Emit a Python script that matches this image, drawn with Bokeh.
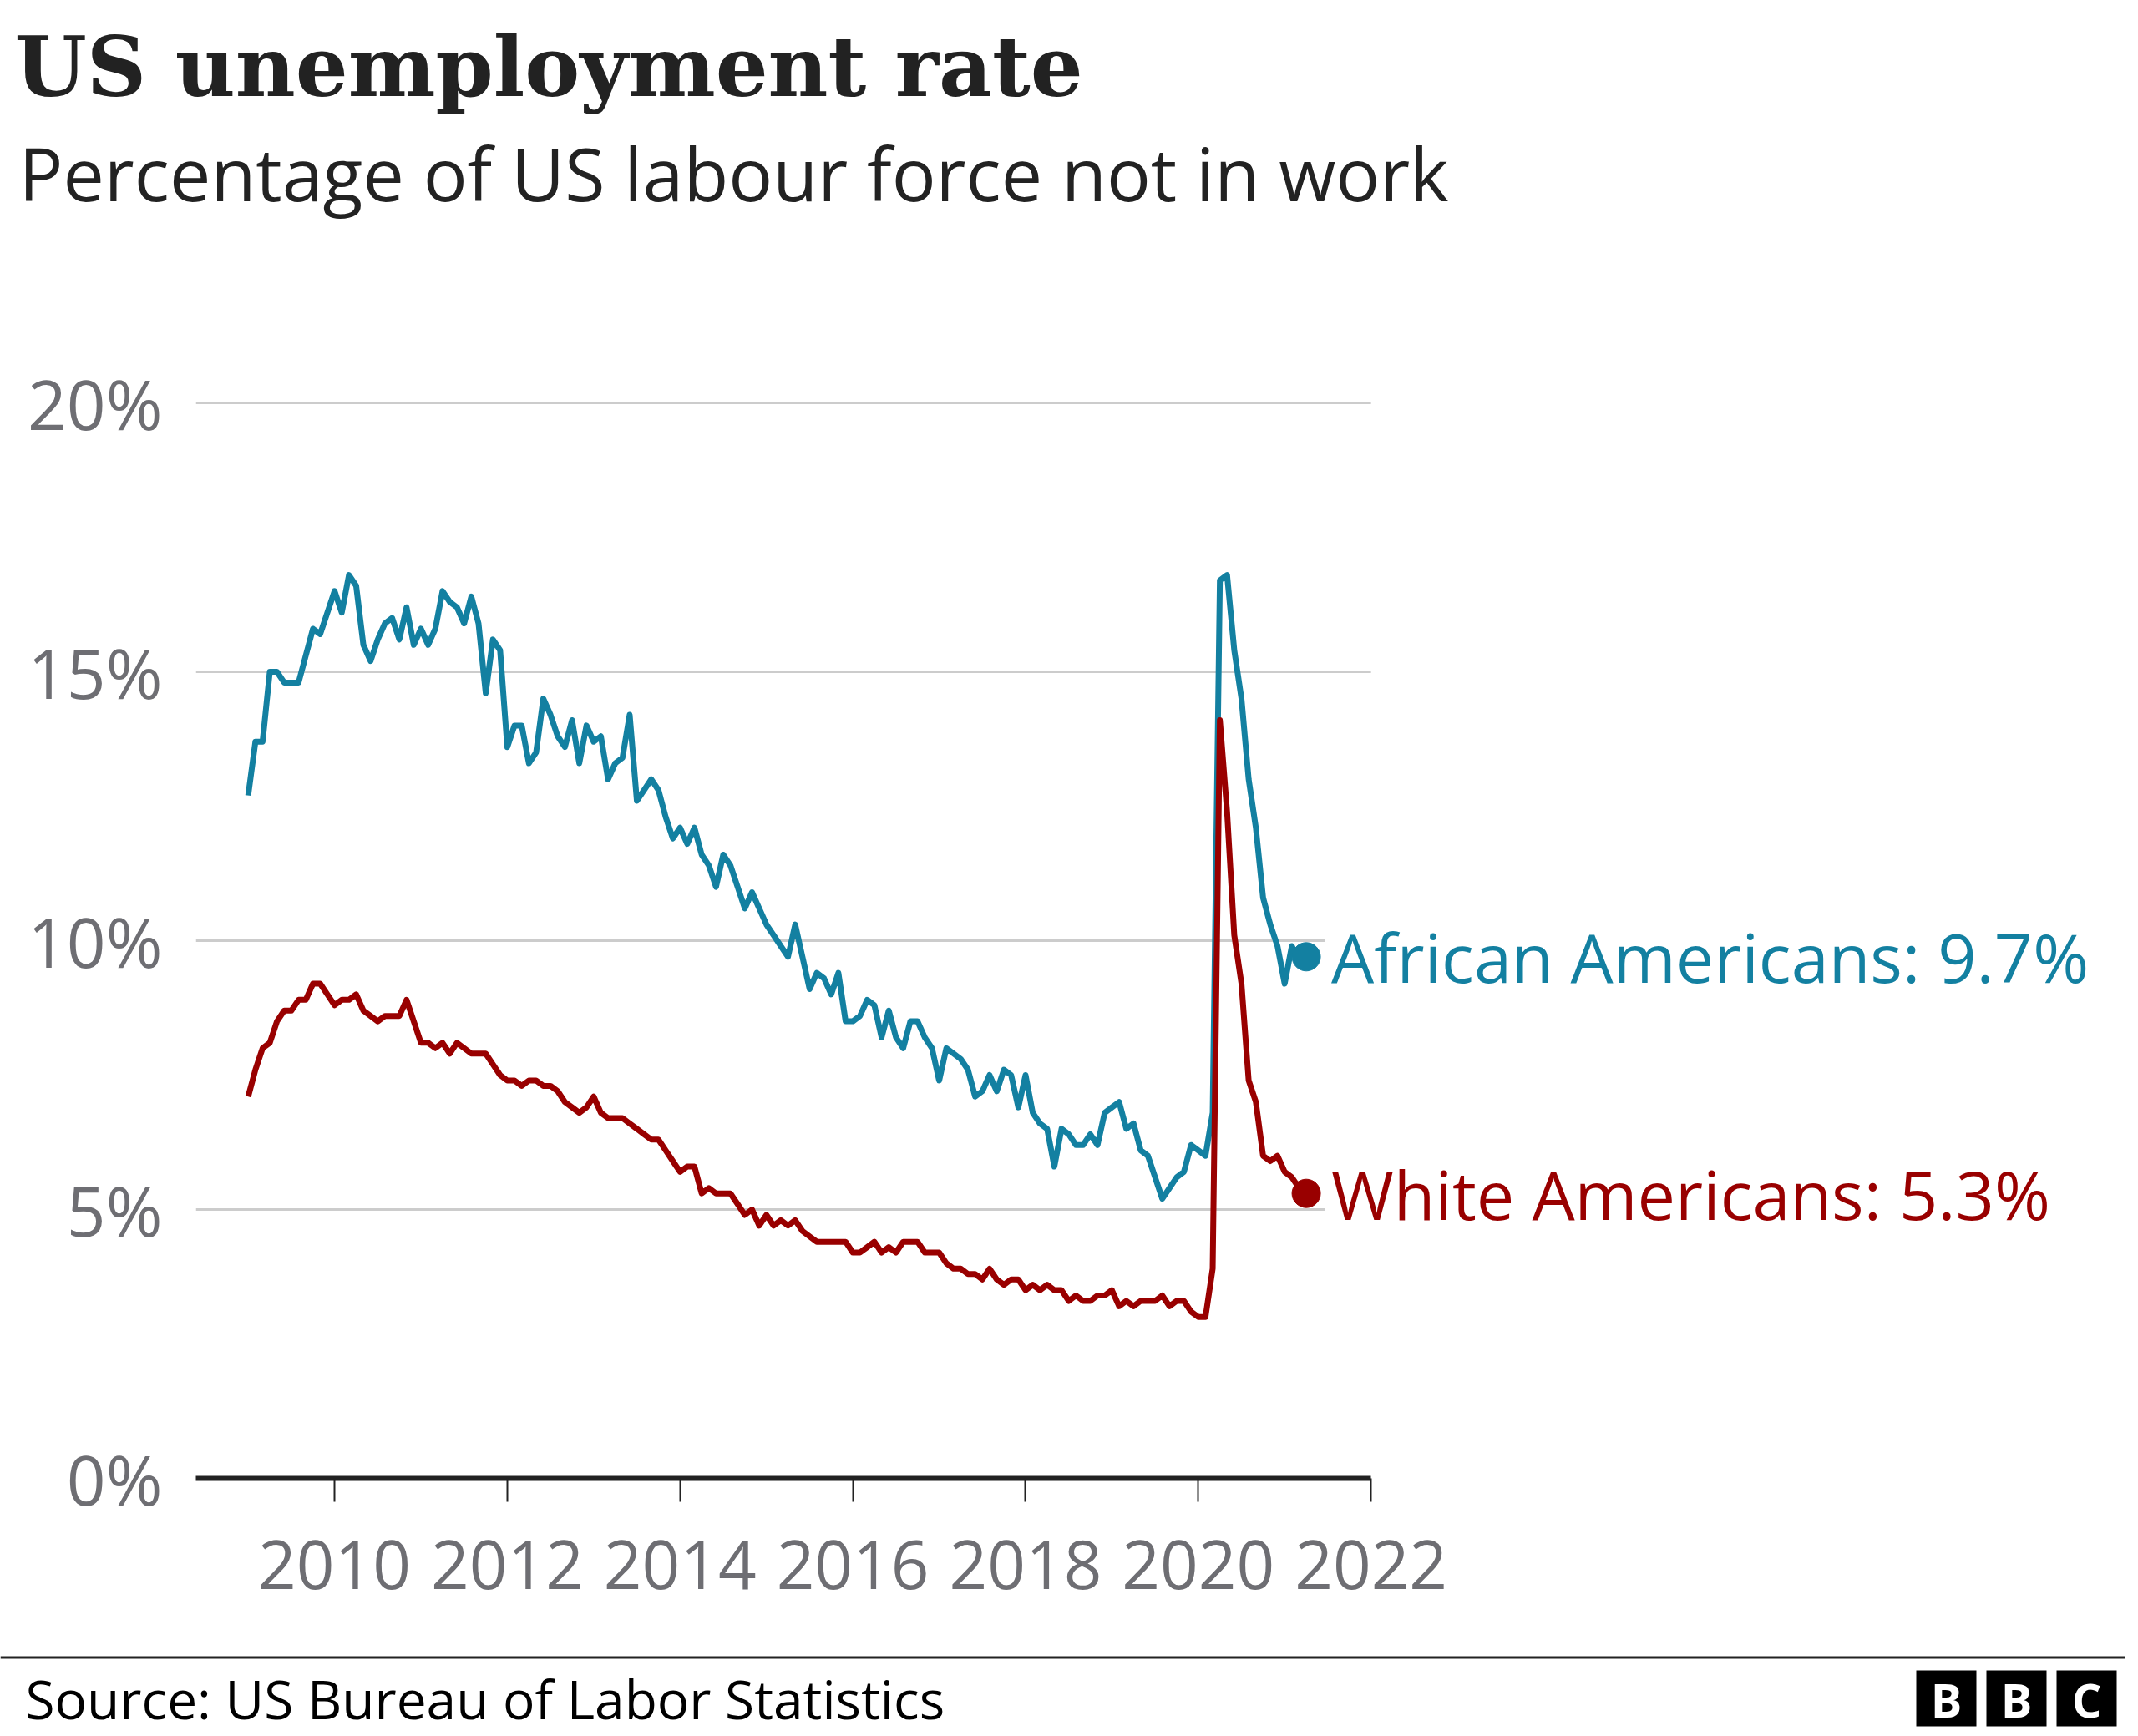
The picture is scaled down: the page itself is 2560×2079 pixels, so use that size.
import pandas as pd
from bokeh.plotting import figure
from bokeh.layouts import column
from bokeh.models import Range1d, FixedTicker, PrintfTickFormatter, Label
from bokeh.embed import file_html
from bokeh.resources import INLINE

# ---------------- data (monthly, Jan 2009 - Apr 2021) ----------------
months = pd.date_range("2009-01-01", "2021-04-01", freq="MS")
dates = [d.year + (d.month - 1) / 12 for d in months]

african_americans = [
    12.7, 13.7, 13.7, 15.0, 15.0, 14.8, 14.8, 14.8, 15.3, 15.8, 15.7, 16.1,
    16.5, 16.1, 16.8, 16.6, 15.5, 15.2, 15.6, 15.9, 16.0, 15.6, 16.2, 15.5,
    15.8, 15.5, 15.8, 16.5, 16.3, 16.2, 15.9, 16.4, 15.9, 14.6, 15.6, 15.4,
    13.6, 14.0, 14.0, 13.3, 13.5, 14.5, 14.2, 13.8, 13.6, 14.1, 13.3, 14.0,
    13.7, 13.8, 13.0, 13.3, 13.4, 14.2, 12.6, 12.8, 13.0, 12.8, 12.3, 11.9,
    12.1, 11.8, 12.1, 11.6, 11.4, 11.0, 11.6, 11.4, 11.0, 10.6, 10.9, 10.6,
    10.3, 10.1, 9.9, 9.7, 10.3, 9.7, 9.1, 9.4, 9.3, 9.0, 9.4, 8.5,
    8.5, 8.6, 8.9, 8.8, 8.2, 8.7, 8.2, 8.0, 8.5, 8.5, 8.2, 8.0,
    7.4, 8.0, 7.9, 7.8, 7.6, 7.1, 7.2, 7.5, 7.2, 7.6, 7.5, 6.9,
    7.5, 6.8, 6.6, 6.5, 5.8, 6.5, 6.4, 6.2, 6.2, 6.4, 6.2, 6.8,
    6.9, 7.0, 6.5, 6.6, 6.1, 6.0, 5.6, 5.2, 5.4, 5.6, 5.7, 6.2,
    6.1, 6.0, 6.8, 16.7, 16.8, 15.4, 14.5, 13.0, 12.1, 10.8, 10.3, 9.9,
    9.2, 9.9, 9.6, 9.7,
]

white_americans = [
    7.1, 7.6, 8.0, 8.1, 8.5, 8.7, 8.7, 8.9, 8.9, 9.2, 9.2, 9.0,
    8.8, 8.9, 8.9, 9.0, 8.7, 8.6, 8.5, 8.6, 8.6, 8.6, 8.9, 8.5,
    8.1, 8.1, 8.0, 8.1, 7.9, 8.1, 8.0, 7.9, 7.9, 7.9, 7.7, 7.5,
    7.4, 7.4, 7.3, 7.4, 7.4, 7.3, 7.3, 7.2, 7.0, 6.9, 6.8, 6.9,
    7.1, 6.8, 6.7, 6.7, 6.7, 6.6, 6.5, 6.4, 6.3, 6.3, 6.1, 5.9,
    5.7, 5.8, 5.8, 5.3, 5.4, 5.3, 5.3, 5.3, 5.1, 4.9, 5.0, 4.7,
    4.9, 4.7, 4.8, 4.7, 4.8, 4.6, 4.5, 4.4, 4.4, 4.4, 4.4, 4.4,
    4.2, 4.2, 4.3, 4.4, 4.2, 4.3, 4.2, 4.4, 4.4, 4.4, 4.2, 4.2,
    4.2, 4.0, 3.9, 3.9, 3.8, 3.8, 3.7, 3.9, 3.7, 3.6, 3.7, 3.7,
    3.5, 3.6, 3.5, 3.6, 3.5, 3.5, 3.3, 3.4, 3.3, 3.3, 3.4, 3.4,
    3.5, 3.2, 3.3, 3.2, 3.3, 3.3, 3.3, 3.4, 3.2, 3.3, 3.3, 3.1,
    3.0, 3.0, 3.9, 14.1, 12.4, 10.1, 9.2, 7.4, 7.0, 6.0, 5.9, 6.0,
    5.7, 5.6, 5.4, 5.3,
]

y_ticks = [0, 5, 10, 15, 20]
x_ticks = [2010, 2012, 2014, 2016, 2018, 2020, 2022]

title_text = "US unemployment rate"
subtitle_text = "Percentage of US labour force not in work"
source_text = "Source: US Bureau of Labor Statistics"
logo_letters = ["B", "B", "C"]

BLUE = "#1380A1"
RED = "#990000"
GREY = "#6e6e73"
DARK = "#222222"
GRID = "#cccccc"

W = 2544
H_HEAD, H_MAIN, H_FOOT = 300, 1670, 109


def blank(height, y_top, y_bottom):
    f = figure(width=W, height=height, output_backend="svg", toolbar_location=None,
               x_range=Range1d(0, W), y_range=Range1d(y_bottom, y_top),
               x_axis_location=None, y_axis_location=None, min_border=0,
               frame_align=False)
    f.outline_line_color = None
    f.grid.visible = False
    f.background_fill_color = "white"
    f.border_fill_color = "white"
    return f


# ---------------- header ----------------
head = blank(H_HEAD, 0, H_HEAD)
head.add_layout(Label(x=17, y=79, text=title_text, text_font="DejaVu Serif",
                      text_font_style="bold", text_font_size="99px",
                      text_color=DARK, text_baseline="alphabetic"))
head.add_layout(Label(x=22, y=206, text=subtitle_text, text_font="Open Sans",
                      text_font_size="88px", text_color=DARK,
                      text_baseline="alphabetic"))

# ---------------- main chart ----------------
ML, MR, MT, MB = 234, 24, 0, 200
frame_w = W - ML - MR
frame_h = H_MAIN - MT - MB
px_per_year = 103.42
px_per_pct = 64.4
x_start = x_ticks[0] - (400.1 - ML) / px_per_year
x_end = x_start + frame_w / px_per_year
y_end = frame_h / px_per_pct

p = figure(width=W, height=H_MAIN, output_backend="svg", toolbar_location=None,
           x_range=Range1d(x_start, x_end), y_range=Range1d(0, y_end),
           min_border_left=ML, min_border_right=MR,
           min_border_top=MT, min_border_bottom=MB, frame_align=False)
p.outline_line_color = None
p.background_fill_color = "white"
p.border_fill_color = "white"
p.grid.visible = False

p.yaxis.ticker = FixedTicker(ticks=y_ticks)
p.yaxis.formatter = PrintfTickFormatter(format="%d%%")
p.yaxis.axis_line_color = None
p.yaxis.major_tick_line_color = None
p.yaxis.minor_tick_line_color = None
p.yaxis.major_label_text_font = "Open Sans"
p.yaxis.major_label_text_font_size = "82px"
p.yaxis.major_label_text_color = GREY
p.yaxis.major_label_standoff = 34

p.xaxis.ticker = FixedTicker(ticks=x_ticks)
p.xaxis.formatter = PrintfTickFormatter(format="%d")
p.xaxis.bounds = (x_start, x_ticks[-1])
p.xaxis.axis_line_color = DARK
p.xaxis.axis_line_width = 6
p.xaxis.major_tick_line_color = DARK
p.xaxis.major_tick_line_width = 2
p.xaxis.major_tick_in = 0
p.xaxis.major_tick_out = 28
p.xaxis.minor_tick_line_color = None
p.xaxis.major_label_text_font = "Open Sans"
p.xaxis.major_label_text_font_size = "80px"
p.xaxis.major_label_text_color = GREY
p.xaxis.major_label_standoff = 46

# horizontal gridlines, only across the dated part of the chart
grid_y = y_ticks[1:]
p.segment(x0=[x_start] * len(grid_y), x1=[x_ticks[-1]] * len(grid_y),
          y0=grid_y, y1=grid_y, line_color=GRID, line_width=3)

p.line(dates, african_americans, line_color=BLUE, line_width=7, line_join="round")
p.line(dates, white_americans, line_color=RED, line_width=7, line_join="round")
p.scatter([dates[-1]], [african_americans[-1]], size=34, color=BLUE)
p.scatter([dates[-1]], [white_americans[-1]], size=34, color=RED)

p.add_layout(Label(x=dates[-1], y=african_americans[-1], x_offset=22,
                   text=f"African Americans: {african_americans[-1]}%",
                   text_font="Open Sans", text_font_size="81px", text_color=BLUE,
                   text_baseline="middle", background_fill_color="white", padding=8))
p.add_layout(Label(x=dates[-1], y=white_americans[-1], x_offset=22,
                   text=f"White Americans: {white_americans[-1]}%",
                   text_font="Open Sans", text_font_size="81px", text_color=RED,
                   text_baseline="middle", background_fill_color="white", padding=8))

# ---------------- footer ----------------
y0 = H_HEAD + H_MAIN
foot = blank(H_FOOT, y0, y0 + H_FOOT)
foot.quad(left=[0], right=[W], top=[1983], bottom=[1986], fill_color=DARK, line_color=None)
foot.add_layout(Label(x=30, y=2034, text=source_text, text_font="Open Sans",
                      text_font_size="64px", text_color="black",
                      text_baseline="alphabetic"))
logo_left = [2294, 2378, 2462]
foot.quad(left=logo_left, right=[l + 72 for l in logo_left],
          top=[2000] * 3, bottom=[2067] * 3, fill_color="black", line_color=None)
for l, letter in zip(logo_left, logo_letters):
    foot.add_layout(Label(x=l + 36, y=2034, text=letter, text_font="Open Sans",
                          text_font_style="bold", text_font_size="56px",
                          text_color="white", text_align="center",
                          text_baseline="middle"))

layout = column(head, p, foot, spacing=0)
open("out.html", "w").write(file_html(layout, INLINE))
